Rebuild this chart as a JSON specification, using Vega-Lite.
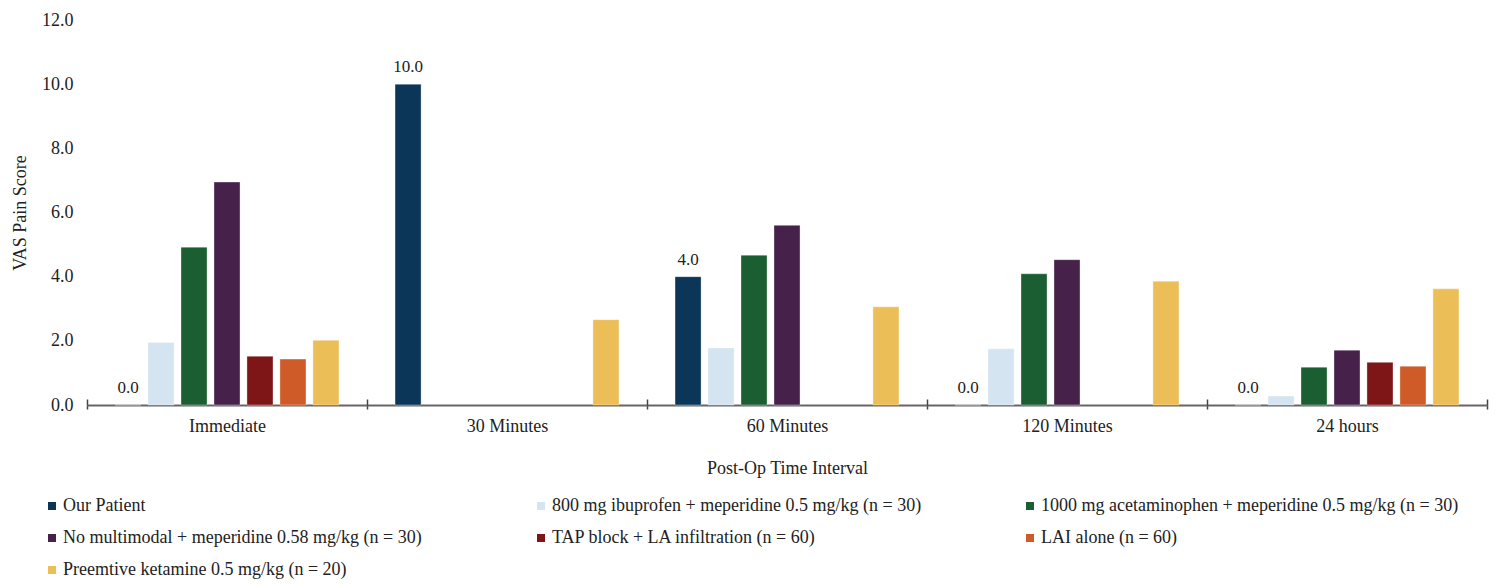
{
  "$schema": "https://vega.github.io/schema/vega-lite/v6.json",
  "width": 1400,
  "height": 385,
  "autosize": "none",
  "padding": {"left": 87, "top": 20, "right": 13, "bottom": 181},
  "background": "white",
  "config": {
    "view": {"stroke": null},
    "font": "Liberation Serif",
    "axis": {"labelFont": "Liberation Serif", "titleFont": "Liberation Serif", "labelColor": "#222", "titleColor": "#222", "titleFontWeight": "normal"},
    "legend": {"labelFont": "Liberation Serif"}
  },
  "data": {
    "values": [
      {"interval": "Immediate", "group": "Our Patient", "score": 0.0},
      {"interval": "Immediate", "group": "800 mg ibuprofen + meperidine 0.5 mg/kg (n = 30)", "score": 1.95},
      {"interval": "Immediate", "group": "1000 mg acetaminophen + meperidine 0.5 mg/kg (n = 30)", "score": 4.92},
      {"interval": "Immediate", "group": "No multimodal + meperidine 0.58 mg/kg (n = 30)", "score": 6.95},
      {"interval": "Immediate", "group": "TAP block + LA infiltration (n = 60)", "score": 1.52},
      {"interval": "Immediate", "group": "LAI alone (n = 60)", "score": 1.43},
      {"interval": "Immediate", "group": "Preemtive ketamine 0.5 mg/kg (n = 20)", "score": 2.02},
      {"interval": "30 Minutes", "group": "Our Patient", "score": 10.0},
      {"interval": "30 Minutes", "group": "Preemtive ketamine 0.5 mg/kg (n = 20)", "score": 2.66},
      {"interval": "60 Minutes", "group": "Our Patient", "score": 4.0},
      {"interval": "60 Minutes", "group": "800 mg ibuprofen + meperidine 0.5 mg/kg (n = 30)", "score": 1.78},
      {"interval": "60 Minutes", "group": "1000 mg acetaminophen + meperidine 0.5 mg/kg (n = 30)", "score": 4.67},
      {"interval": "60 Minutes", "group": "No multimodal + meperidine 0.58 mg/kg (n = 30)", "score": 5.6},
      {"interval": "60 Minutes", "group": "Preemtive ketamine 0.5 mg/kg (n = 20)", "score": 3.06},
      {"interval": "120 Minutes", "group": "Our Patient", "score": 0.0},
      {"interval": "120 Minutes", "group": "800 mg ibuprofen + meperidine 0.5 mg/kg (n = 30)", "score": 1.75},
      {"interval": "120 Minutes", "group": "1000 mg acetaminophen + meperidine 0.5 mg/kg (n = 30)", "score": 4.09},
      {"interval": "120 Minutes", "group": "No multimodal + meperidine 0.58 mg/kg (n = 30)", "score": 4.53},
      {"interval": "120 Minutes", "group": "Preemtive ketamine 0.5 mg/kg (n = 20)", "score": 3.86},
      {"interval": "24 hours", "group": "Our Patient", "score": 0.0},
      {"interval": "24 hours", "group": "800 mg ibuprofen + meperidine 0.5 mg/kg (n = 30)", "score": 0.28},
      {"interval": "24 hours", "group": "1000 mg acetaminophen + meperidine 0.5 mg/kg (n = 30)", "score": 1.18},
      {"interval": "24 hours", "group": "No multimodal + meperidine 0.58 mg/kg (n = 30)", "score": 1.71},
      {"interval": "24 hours", "group": "TAP block + LA infiltration (n = 60)", "score": 1.33},
      {"interval": "24 hours", "group": "LAI alone (n = 60)", "score": 1.21},
      {"interval": "24 hours", "group": "Preemtive ketamine 0.5 mg/kg (n = 20)", "score": 3.62}
    ]
  },
  "encoding": {
    "x": {
      "field": "interval",
      "type": "nominal",
      "sort": ["Immediate", "30 Minutes", "60 Minutes", "120 Minutes", "24 hours"],
      "scale": {"paddingInner": 0, "paddingOuter": 0},
      "title": "Post-Op Time Interval"
    },
    "xOffset": {
      "field": "group",
      "type": "nominal",
      "sort": [
        "Our Patient",
        "800 mg ibuprofen + meperidine 0.5 mg/kg (n = 30)",
        "1000 mg acetaminophen + meperidine 0.5 mg/kg (n = 30)",
        "No multimodal + meperidine 0.58 mg/kg (n = 30)",
        "TAP block + LA infiltration (n = 60)",
        "LAI alone (n = 60)",
        "Preemtive ketamine 0.5 mg/kg (n = 20)"
      ],
      "scale": {
        "domain": [
          "Our Patient",
          "800 mg ibuprofen + meperidine 0.5 mg/kg (n = 30)",
          "1000 mg acetaminophen + meperidine 0.5 mg/kg (n = 30)",
          "No multimodal + meperidine 0.58 mg/kg (n = 30)",
          "TAP block + LA infiltration (n = 60)",
          "LAI alone (n = 60)",
          "Preemtive ketamine 0.5 mg/kg (n = 20)"
        ],
        "paddingInner": 0.21,
        "paddingOuter": 0.85
      }
    },
    "y": {
      "field": "score",
      "type": "quantitative",
      "scale": {"domain": [0, 12], "nice": false},
      "title": "VAS Pain Score",
      "axis": {
        "values": [0, 2, 4, 6, 8, 10, 12],
        "format": ".1f",
        "domain": false,
        "ticks": false,
        "grid": false,
        "labelFontSize": 18,
        "labelPadding": 14,
        "titleFontSize": 18,
        "titlePadding": 12
      }
    }
  },
  "layer": [
    {
      "mark": {"type": "bar", "stroke": "#ffffff", "strokeOpacity": 0.35, "strokeWidth": 1},
      "encoding": {
        "color": {
          "field": "group",
          "type": "nominal",
          "title": null,
          "scale": {
            "domain": [
              "Our Patient",
              "800 mg ibuprofen + meperidine 0.5 mg/kg (n = 30)",
              "1000 mg acetaminophen + meperidine 0.5 mg/kg (n = 30)",
              "No multimodal + meperidine 0.58 mg/kg (n = 30)",
              "TAP block + LA infiltration (n = 60)",
              "LAI alone (n = 60)",
              "Preemtive ketamine 0.5 mg/kg (n = 20)"
            ],
            "range": ["#0b3658", "#d5e4f1", "#1a5e31", "#46224a", "#7e1517", "#cf5b29", "#ecbe58"]
          },
          "legend": {
            "orient": "none",
            "legendX": -44,
            "legendY": 477,
            "direction": "horizontal",
            "columns": 3,
            "gridAlign": "all",
            "columnPadding": 51,
            "rowPadding": 14,
            "symbolType": "square",
            "symbolSize": 64,
            "symbolStrokeWidth": 0,
            "labelFontSize": 18,
            "labelColor": "#222",
            "labelOffset": 2,
            "labelLimit": 600
          }
        },
        "x": {
          "field": "interval",
          "type": "nominal",
          "sort": ["Immediate", "30 Minutes", "60 Minutes", "120 Minutes", "24 hours"],
          "title": "Post-Op Time Interval",
          "axis": {
            "orient": "bottom",
            "labelAngle": 0,
            "labelFontSize": 18,
            "labelPadding": 8,
            "tickBand": "extent",
            "tickSize": 4,
            "tickColor": "#444",
            "tickWidth": 1.5,
            "domainColor": "#666",
            "domainWidth": 2,
            "titleFontSize": 18,
            "titlePadding": 24
          }
        }
      }
    },
    {
      "mark": {"type": "text", "baseline": "alphabetic", "dy": -12, "fontSize": 17, "color": "#222"},
      "transform": [{"filter": "datum.group == 'Our Patient'"}],
      "encoding": {
        "text": {"field": "score", "type": "quantitative", "format": ".1f"},
        "x": {
          "field": "interval",
          "type": "nominal",
          "sort": ["Immediate", "30 Minutes", "60 Minutes", "120 Minutes", "24 hours"],
          "axis": {
            "orient": "bottom",
            "labels": false,
            "domain": false,
            "title": null,
            "tickBand": "extent",
            "tickSize": -6,
            "tickColor": "#444",
            "tickWidth": 1.5
          }
        }
      }
    }
  ],
  "resolve": {"axis": {"x": "independent"}}
}
